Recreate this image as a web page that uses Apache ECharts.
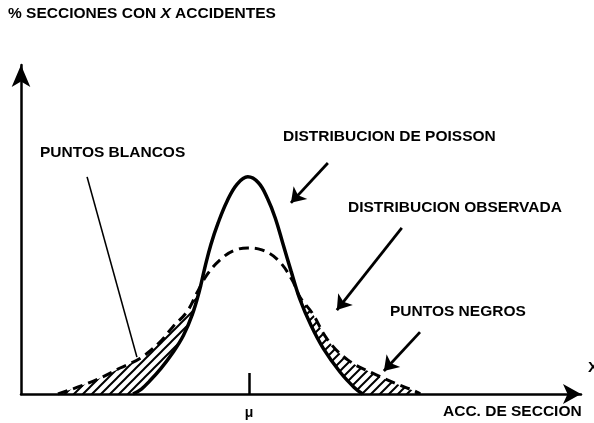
<!DOCTYPE html>
<html>
<head>
<meta charset="utf-8">
<script src="https://cdn.jsdelivr.net/npm/echarts@6/dist/echarts.min.js"></script>
<style>
  html, body { margin: 0; padding: 0; background: #fff; }
  #chart { width: 594px; height: 423px; }
</style>
</head>
<body>
<div id="chart"></div>
<script>
// curva de Poisson (continua)
const poissonX = [20.0, 21.5, 23.0, 25.0, 27.0, 29.0, 30.6, 31.8, 32.8, 33.9, 35.2, 36.8, 38.6, 40.5, 42.4, 44.0, 45.4, 46.8, 48.2, 49.8, 51.8, 54.0, 57.0, 59.5, 61.0];
const poissonY = [0, 1.5, 4.0, 7.8, 12.3, 17.8, 24.2, 31.0, 38.2, 45.4, 52.0, 58.6, 63.8, 66.0, 64.2, 59.5, 53.5, 45.5, 37.5, 28.8, 20.8, 13.8, 6.6, 2.0, 0];

// distribucion observada (discontinua)
const observadaX = [6.6, 11.1, 14.6, 17.7, 21.3, 24.8, 27.1, 29.6, 31.4, 33.2, 35.5, 37.9, 40.5, 43.0, 45.9, 48.4, 49.8, 52.0, 54.8, 58.4, 62.7, 66.8, 70.7, 71.3];
const observadaY = [0, 2.7, 5.2, 7.9, 10.9, 15.8, 20.4, 24.9, 30.7, 36.2, 40.7, 43.5, 44.4, 43.8, 40.7, 34.7, 29.5, 24.6, 16.4, 10.3, 6.4, 3.3, 0.6, 0];

const mu = 40.7;
const xTickLabels = ['μ'];

const FONT = 'Liberation Sans, Arial, sans-serif';

function pairs(xs, ys) {
  return xs.map((x, i) => [x, ys[i]]);
}

// rayado diagonal
function hatch() {
  const s = 9;
  const c = document.createElement('canvas');
  c.width = s; c.height = s;
  const g = c.getContext('2d');
  g.fillStyle = '#fff';
  g.fillRect(0, 0, s, s);
  g.strokeStyle = '#000';
  g.lineWidth = 2;
  g.beginPath();
  g.moveTo(0, s); g.lineTo(s, 0);
  g.moveTo(-2, 2); g.lineTo(2, -2);
  g.moveTo(s - 2, s + 2); g.lineTo(s + 2, s - 2);
  g.stroke();
  return c;
}

function label(text, x, y) {
  return {
    type: 'text', left: x, top: y - 9,
    style: { text: text, fill: '#000', font: 'bold 15.5px ' + FONT }
  };
}

const chart = echarts.init(document.getElementById('chart'));
chart.setOption({
  backgroundColor: '#fff',
  animation: false,
  title: {
    left: 8, top: 6, padding: 0,
    text: '% SECCIONES CON {i|X} ACCIDENTES',
    textStyle: {
      fontFamily: FONT, fontWeight: 'bold', fontSize: 15.5, color: '#000',
      rich: { i: { fontFamily: FONT, fontWeight: 'bold', fontStyle: 'italic', fontSize: 15.5, color: '#000' } }
    }
  },
  grid: { left: 21, right: 13, top: 65, bottom: 29 },
  xAxis: {
    type: 'value', min: 0, max: 100, z: 10,
    splitLine: { show: false },
    axisLine: {
      show: true, onZero: false,
      lineStyle: { color: '#000', width: 2.5 },
      symbol: ['none', 'arrow'], symbolSize: [15, 18]
    },
    axisTick: {
      show: true, inside: true, length: 21, customValues: [mu],
      lineStyle: { color: '#000', width: 2.5 }
    },
    axisLabel: {
      show: true, customValues: [mu], margin: 12,
      formatter: () => xTickLabels[0],
      color: '#000', fontFamily: FONT, fontWeight: 'bold', fontSize: 14
    }
  },
  yAxis: {
    type: 'value', min: 0, max: 100, z: 10,
    splitLine: { show: false },
    axisTick: { show: false },
    axisLabel: { show: false },
    axisLine: {
      show: true,
      lineStyle: { color: '#000', width: 2.5 },
      symbol: ['none', 'arrow'], symbolSize: [14, 22]
    }
  },
  series: [
    {
      // zona rayada bajo la distribucion observada
      type: 'line', z: 1, smooth: 0.4, showSymbol: false, silent: true,
      data: pairs(observadaX, observadaY),
      lineStyle: { width: 0, opacity: 0 },
      areaStyle: { color: { image: hatch(), repeat: 'repeat' }, opacity: 1 }
    },
    {
      // tapa blanca bajo la curva de Poisson
      type: 'line', z: 2, smooth: 0.4, showSymbol: false, silent: true,
      data: pairs(poissonX, poissonY),
      lineStyle: { width: 0, opacity: 0 },
      areaStyle: { color: '#fff', opacity: 1 }
    },
    {
      type: 'line', z: 3, smooth: 0.4, showSymbol: false,
      data: pairs(observadaX, observadaY),
      lineStyle: { color: '#000', width: 3, type: [10, 6], cap: 'butt' }
    },
    {
      type: 'line', z: 4, smooth: 0.4, showSymbol: false,
      data: pairs(poissonX, poissonY),
      lineStyle: { color: '#000', width: 3.5 },
      markLine: {
        silent: true, animation: false,
        symbol: ['none', 'arrow'], symbolSize: 14,
        label: { show: false },
        lineStyle: { color: '#000', width: 2.8, type: 'solid' },
        data: [
          [{ coord: [54.8, 70.2] }, { coord: [48.2, 58.1] }],
          [{ coord: [68.0, 50.5] }, { coord: [56.4, 25.5] }],
          [{ coord: [71.25, 18.8] }, { coord: [64.8, 7.0] }],
          [{ coord: [11.8, 66.0], lineStyle: { width: 1.6 } }, { coord: [20.7, 11.2], symbol: 'none' }]
        ]
      }
    }
  ],
  graphic: [
    label('PUNTOS BLANCOS', 40, 154),
    label('DISTRIBUCION DE POISSON', 283, 138),
    label('DISTRIBUCION OBSERVADA', 348, 209),
    label('PUNTOS NEGROS', 390, 313),
    label('ACC. DE SECCION', 443, 413),
    label('X', 588, 369)
  ]
});
</script>
</body>
</html>
